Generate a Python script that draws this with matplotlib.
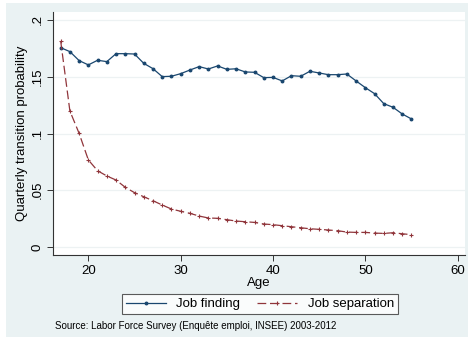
import matplotlib.pyplot as plt
from matplotlib.patches import Rectangle

plt.rcParams['font.family'] = ['Liberation Sans', 'DejaVu Sans']

ages = list(range(17, 56))
job_finding = [0.1756, 0.1721, 0.1642, 0.1604, 0.1645, 0.1633, 0.1703, 0.1703, 0.1700,
               0.1618, 0.1571, 0.1501, 0.1504, 0.1527, 0.1559, 0.1589, 0.1568, 0.1595,
               0.1565, 0.1570, 0.1542, 0.1539, 0.1492, 0.1494, 0.1463, 0.1509, 0.1504,
               0.1548, 0.1533, 0.1518, 0.1518, 0.1524, 0.1463, 0.1404, 0.1351, 0.1263,
               0.1231, 0.1172, 0.1128]
job_separation = [0.1815, 0.1198, 0.1001, 0.0767, 0.0672, 0.0626, 0.0590, 0.0526, 0.0479,
                  0.0443, 0.0408, 0.0370, 0.0335, 0.0315, 0.0297, 0.0273, 0.0256, 0.0253,
                  0.0241, 0.0229, 0.0223, 0.0217, 0.0203, 0.0197, 0.0188, 0.0179, 0.0170,
                  0.0161, 0.0156, 0.0150, 0.0144, 0.0132, 0.0129, 0.0129, 0.0123, 0.0120,
                  0.0126, 0.0117, 0.0109]
xticks = [20, 30, 40, 50, 60]
yticks = [0, 0.05, 0.1, 0.15, 0.2]
ytick_labels = ["0", ".05", ".1", ".15", ".2"]

bg = "#eaf2f3"
navy = "#1a476f"
maroon = "#90353b"

fig = plt.figure(figsize=(4.68, 3.44), dpi=100, facecolor="white")
fig.patches.append(Rectangle((6 / 468, 7 / 344), 462 / 468, 334 / 344,
                             transform=fig.transFigure, facecolor=bg,
                             edgecolor="none", zorder=-10))
ax = fig.add_axes([53 / 468, 1 - 255 / 344, 412 / 468, 243 / 344])
ax.set_zorder(1)
ax.set_facecolor("white")

ax.plot(ages, job_finding, color=navy, lw=0.9, marker="o", ms=1.8,
        label="Job finding")
ax.plot(ages, job_separation, color=maroon, lw=0.9, ls=(0, (7, 3)), marker="+",
        ms=3.5, mew=0.8, label="Job separation")

ax.set_xlim(16.17, 60.8)
ax.set_ylim(-0.007, 0.207)
ax.set_xticks(xticks)
ax.set_yticks(yticks)
ax.set_yticklabels(ytick_labels, rotation=90, va="center")
ax.tick_params(labelsize=9.5, length=4, width=0.7, color="#333333", pad=3)
ax.grid(axis="y", color="#edf2f3", lw=0.9)
ax.set_axisbelow(True)
for s in ["top", "right"]:
    ax.spines[s].set_visible(False)
for s in ["left", "bottom"]:
    ax.spines[s].set_linewidth(0.8)
    ax.spines[s].set_color("#333333")

ax.set_xlabel("Age", fontsize=9.5, labelpad=0)
ax.set_ylabel("Quarterly transition probability", fontsize=9.5, labelpad=2)

leg = fig.legend(loc="center", bbox_to_anchor=(260 / 468, 1 - 304 / 344), ncol=2,
                 fontsize=9.5, frameon=True, fancybox=False, handlelength=3.0,
                 numpoints=1, columnspacing=1.3, borderpad=0.3)
leg.get_frame().set_edgecolor("#333333")
leg.get_frame().set_linewidth(0.8)

fig.text(55 / 468, 1 - 326 / 344, "Source: Labor Force Survey (Enquête emploi, INSEE) 2003-2012",
         fontsize=7, va="center")

fig.savefig("out.png", dpi=100, facecolor=fig.get_facecolor())
